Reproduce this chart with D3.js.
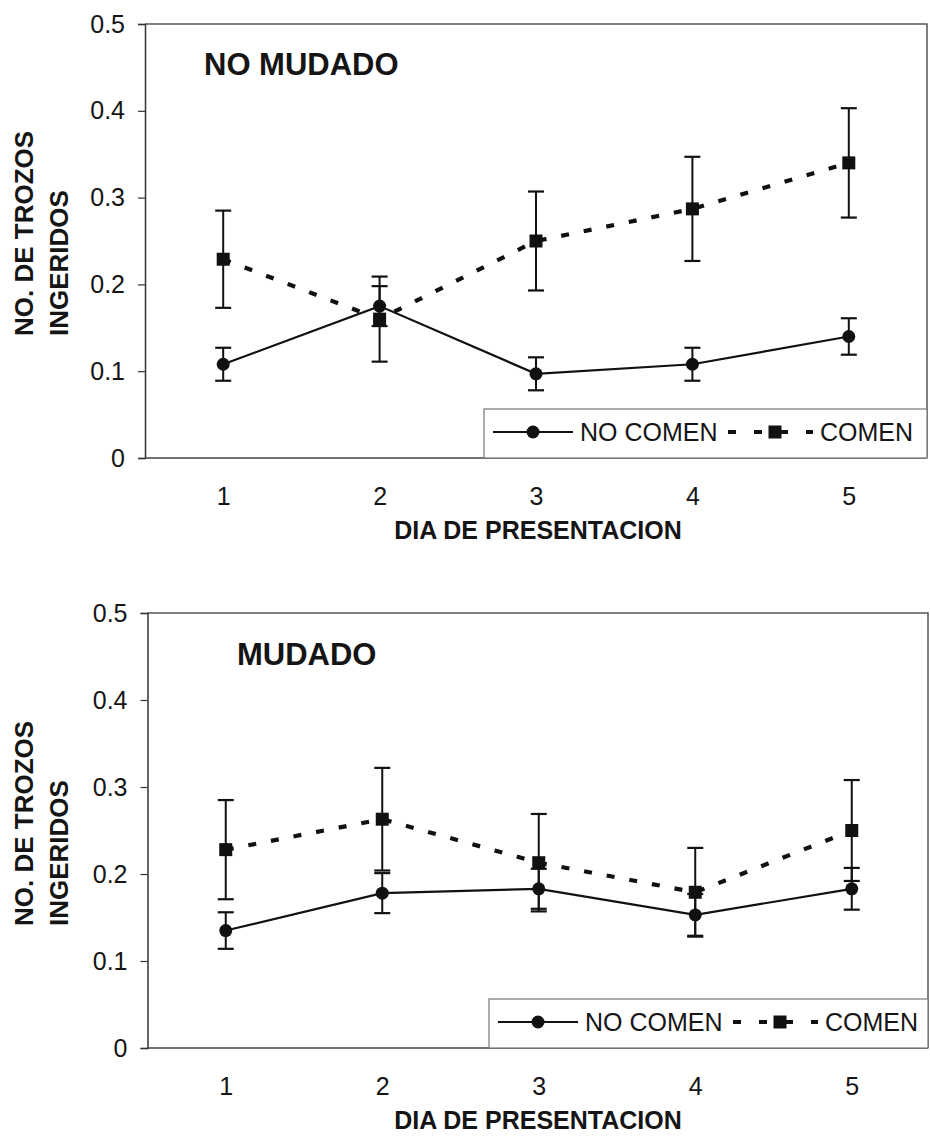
<!DOCTYPE html>
<html>
<head>
<meta charset="utf-8">
<script src="https://cdn.jsdelivr.net/npm/d3@7"></script>
<style>
  html, body { margin: 0; padding: 0; background: #ffffff; }
  svg { display: block; }
  text { font-family: "Liberation Sans", Arial, sans-serif; fill: #151515; }
</style>
</head>
<body>
<div id="chart"></div>
<script>
// Categories (day of presentation) and y-axis ticks
const days = ["1", "2", "3", "4", "5"];
const yTicks = [0, 0.1, 0.2, 0.3, 0.4, 0.5];
const yTickLabels = ["0", "0.1", "0.2", "0.3", "0.4", "0.5"];
const seriesNames = ["NO COMEN", "COMEN"];
const panelTitles = ["NO MUDADO", "MUDADO"];

// Panel 1: NO MUDADO — mean pieces ingested and standard error
const noMudadoNoComen    = [0.108, 0.175, 0.097, 0.108, 0.140];
const noMudadoNoComenErr = [0.019, 0.023, 0.019, 0.019, 0.021];
const noMudadoComen      = [0.229, 0.160, 0.250, 0.287, 0.340];
const noMudadoComenErr   = [0.056, 0.049, 0.057, 0.060, 0.063];

// Panel 2: MUDADO
const mudadoNoComen    = [0.135, 0.178, 0.183, 0.153, 0.183];
const mudadoNoComenErr = [0.021, 0.023, 0.023, 0.024, 0.024];
const mudadoComen      = [0.228, 0.263, 0.213, 0.179, 0.250];
const mudadoComenErr   = [0.057, 0.059, 0.056, 0.051, 0.058];

const W = 930, H = 1139;
const svg = d3.select("#chart").append("svg")
  .attr("width", W).attr("height", H)
  .attr("viewBox", `0 0 ${W} ${H}`);
svg.append("rect").attr("width", W).attr("height", H).attr("fill", "#fff");

const panels = [
  { top: 24, bottom: 458, left: 145, right: 927, borderRight: 927,
    title: panelTitles[0], titleX: 204, titleY: 75, legendLeft: 484,
    noComen: noMudadoNoComen, noComenErr: noMudadoNoComenErr,
    comen: noMudadoComen, comenErr: noMudadoComenErr },
  { top: 613, bottom: 1048, left: 147.5, right: 930, borderRight: 928,
    title: panelTitles[1], titleX: 237, titleY: 665, legendLeft: 489,
    noComen: mudadoNoComen, noComenErr: mudadoNoComenErr,
    comen: mudadoComen, comenErr: mudadoComenErr }
];

const DASH = "8,15";

function drawCircle(g, cx, cy) {
  g.append("circle").attr("cx", cx).attr("cy", cy).attr("r", 6.5).attr("fill", "#111");
}
function drawSquare(g, cx, cy) {
  g.append("rect").attr("x", cx - 6.5).attr("y", cy - 6.5)
    .attr("width", 13).attr("height", 13).attr("fill", "#111");
}

panels.forEach(p => {
  const g = svg.append("g");
  const x = d3.scalePoint().domain(days).range([p.left, p.right]).padding(0.5);
  const y = d3.scaleLinear().domain([0, 0.5]).range([p.bottom, p.top]);

  // plot area frame (top and right edges)
  g.append("path")
    .attr("d", `M${p.left},${y(0.5)}H${p.borderRight}V${y(0)}`)
    .attr("fill", "none").attr("stroke", "#555").attr("stroke-width", 1.5);

  // y axis with outward ticks
  const yAxis = d3.axisLeft(y).tickValues(yTicks)
    .tickFormat((d, i) => yTickLabels[i]).tickSize(7).tickPadding(13);
  const ya = g.append("g").attr("transform", `translate(${p.left},0)`).call(yAxis);
  ya.select(".domain").attr("stroke", "#333").attr("stroke-width", 1.5);
  ya.selectAll(".tick line").attr("stroke", "#333").attr("stroke-width", 1.2);
  ya.selectAll(".tick text").attr("font-size", 25).attr("fill", "#151515")
    .attr("font-family", "'Liberation Sans', Arial, sans-serif");

  // x axis: baseline line, category labels, no tick marks
  const xAxis = d3.axisBottom(x).tickSize(0).tickPadding(29);
  const xa = g.append("g").attr("transform", `translate(0,${p.bottom})`).call(xAxis);
  xa.select(".domain").attr("d", `M${p.left},0H${p.borderRight}`)
    .attr("stroke", "#444").attr("stroke-width", 1.5);
  xa.selectAll(".tick text").attr("font-size", 25).attr("fill", "#151515")
    .attr("font-family", "'Liberation Sans', Arial, sans-serif");

  // axis titles
  g.append("text").attr("x", 538).attr("y", p.bottom + 81)
    .attr("text-anchor", "middle").attr("font-size", 25).attr("font-weight", "bold")
    .text("DIA DE PRESENTACION");
  const yTitle = g.append("text")
    .attr("transform", `translate(33,${p.bottom - 122}) rotate(-90)`)
    .attr("font-size", 26).attr("font-weight", "bold");
  yTitle.append("tspan").attr("x", 0).attr("y", 0).text("NO. DE TROZOS");
  yTitle.append("tspan").attr("x", 0).attr("y", 35).text("INGERIDOS");

  // panel title
  g.append("text").attr("x", p.titleX).attr("y", p.titleY)
    .attr("font-size", 31).attr("font-weight", "bold").text(p.title);

  const line = d3.line().x((d, i) => x(days[i])).y(d => y(d));

  // series lines
  g.append("path").datum(p.noComen).attr("d", line)
    .attr("fill", "none").attr("stroke", "#111").attr("stroke-width", 2.2);
  g.append("path").datum(p.comen).attr("d", line)
    .attr("fill", "none").attr("stroke", "#111").attr("stroke-width", 4.2)
    .attr("stroke-dasharray", DASH);

  // error bars
  const bars = [
    { v: p.noComen, e: p.noComenErr },
    { v: p.comen, e: p.comenErr }
  ];
  bars.forEach(s => {
    s.v.forEach((v, i) => {
      const cx = x(days[i]);
      const y1 = y(v + s.e[i]), y0 = y(v - s.e[i]);
      g.append("line").attr("x1", cx).attr("x2", cx).attr("y1", y1).attr("y2", y0)
        .attr("stroke", "#111").attr("stroke-width", 2);
      [y1, y0].forEach(yy => {
        g.append("line").attr("x1", cx - 8).attr("x2", cx + 8).attr("y1", yy).attr("y2", yy)
          .attr("stroke", "#111").attr("stroke-width", 2.2);
      });
    });
  });

  // markers
  p.noComen.forEach((v, i) => drawCircle(g, x(days[i]), y(v)));
  p.comen.forEach((v, i) => drawSquare(g, x(days[i]), y(v)));

  // legend
  const L = p.legendLeft;
  const lt = p.bottom - 49;
  const lg = g.append("g");
  lg.append("rect").attr("x", L).attr("y", lt).attr("width", p.borderRight - L).attr("height", 49)
    .attr("fill", "#fff").attr("stroke", "#777").attr("stroke-width", 1.2);
  const ly = lt + 23;
  lg.append("line").attr("x1", L + 9).attr("x2", L + 89).attr("y1", ly).attr("y2", ly)
    .attr("stroke", "#111").attr("stroke-width", 2.2);
  drawCircle(lg, L + 49, ly);
  lg.append("text").attr("x", L + 96).attr("y", ly + 8.5).attr("font-size", 25).text(seriesNames[0]);
  lg.append("line").attr("x1", L + 244).attr("x2", L + 329).attr("y1", ly).attr("y2", ly)
    .attr("stroke", "#111").attr("stroke-width", 4.2).attr("stroke-dasharray", "8,18");
  drawSquare(lg, L + 291, ly);
  lg.append("text").attr("x", L + 336).attr("y", ly + 8.5).attr("font-size", 25).text(seriesNames[1]);
});
</script>
</body>
</html>
